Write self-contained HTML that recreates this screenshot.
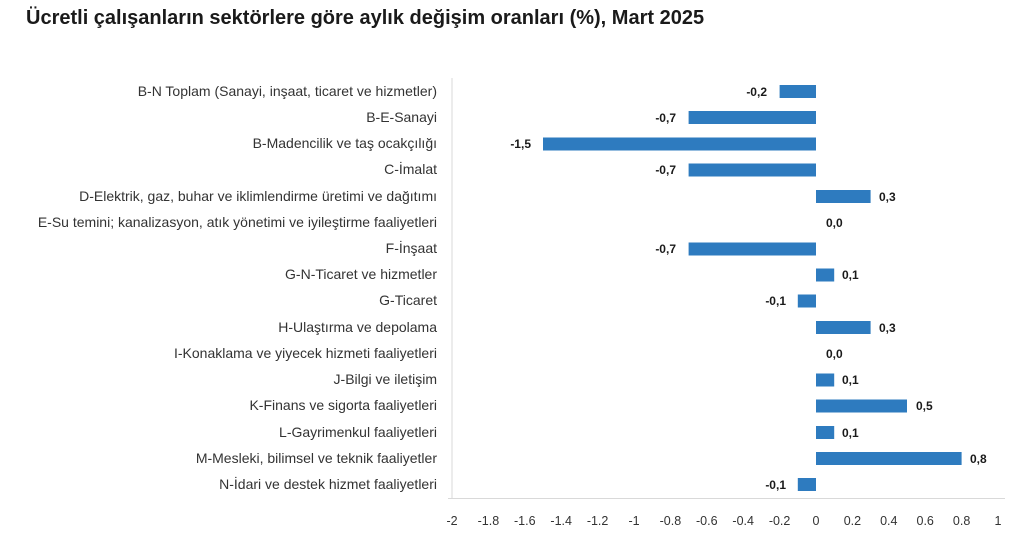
<!DOCTYPE html>
<html><head><meta charset="utf-8"><style>
body{margin:0;background:#fff;}
svg{display:block;}
</style></head><body>
<svg width="1024" height="543" xmlns="http://www.w3.org/2000/svg">
<text x="26" y="24" font-family="Liberation Sans, sans-serif" font-size="20" font-weight="bold" fill="#1a1a1a">Ücretli çalışanların sektörlere göre aylık değişim oranları (%), Mart 2025</text>
<line x1="452" y1="78" x2="452" y2="498" stroke="#d9d9d9" stroke-width="1"/>
<line x1="448" y1="498.5" x2="1005" y2="498.5" stroke="#d9d9d9" stroke-width="1"/>
<g font-family="Liberation Sans, sans-serif" font-size="14" fill="#333" text-anchor="end">
<text x="437" y="96">B-N Toplam (Sanayi, inşaat, ticaret ve hizmetler)</text>
<text x="437" y="122">B-E-Sanayi</text>
<text x="437" y="148">B-Madencilik ve taş ocakçılığı</text>
<text x="437" y="174">C-İmalat</text>
<text x="437" y="201">D-Elektrik, gaz, buhar ve iklimlendirme üretimi ve dağıtımı</text>
<text x="437" y="227">E-Su temini; kanalizasyon, atık yönetimi ve iyileştirme faaliyetleri</text>
<text x="437" y="253">F-İnşaat</text>
<text x="437" y="279">G-N-Ticaret ve hizmetler</text>
<text x="437" y="305">G-Ticaret</text>
<text x="437" y="332">H-Ulaştırma ve depolama</text>
<text x="437" y="358">I-Konaklama ve yiyecek hizmeti faaliyetleri</text>
<text x="437" y="384">J-Bilgi ve iletişim</text>
<text x="437" y="410">K-Finans ve sigorta faaliyetleri</text>
<text x="437" y="437">L-Gayrimenkul faaliyetleri</text>
<text x="437" y="463">M-Mesleki, bilimsel ve teknik faaliyetler</text>
<text x="437" y="489">N-İdari ve destek hizmet faaliyetleri</text>
</g>
<g fill="#2e7bbf">
<rect x="779.6" y="85" width="36.4" height="13"/>
<rect x="688.6" y="111" width="127.4" height="13"/>
<rect x="543" y="137.5" width="273" height="13"/>
<rect x="688.6" y="163.5" width="127.4" height="13"/>
<rect x="816" y="190" width="54.6" height="13"/>
<rect x="688.6" y="242.5" width="127.4" height="13"/>
<rect x="816" y="268.5" width="18.2" height="13"/>
<rect x="797.8" y="294.5" width="18.2" height="13"/>
<rect x="816" y="321" width="54.6" height="13"/>
<rect x="816" y="373.5" width="18.2" height="13"/>
<rect x="816" y="399.5" width="91" height="13"/>
<rect x="816" y="426" width="18.2" height="13"/>
<rect x="816" y="452" width="145.6" height="13"/>
<rect x="797.8" y="478" width="18.2" height="13"/>
</g>
<g font-family="Liberation Sans, sans-serif" font-size="12" font-weight="bold" fill="#1a1a1a">
<text x="767" y="96" text-anchor="end">-0,2</text>
<text x="676" y="122" text-anchor="end">-0,7</text>
<text x="531" y="148" text-anchor="end">-1,5</text>
<text x="676" y="174" text-anchor="end">-0,7</text>
<text x="879" y="201">0,3</text>
<text x="826" y="227">0,0</text>
<text x="676" y="253" text-anchor="end">-0,7</text>
<text x="842" y="279">0,1</text>
<text x="786" y="305" text-anchor="end">-0,1</text>
<text x="879" y="332">0,3</text>
<text x="826" y="358">0,0</text>
<text x="842" y="384">0,1</text>
<text x="916" y="410">0,5</text>
<text x="842" y="437">0,1</text>
<text x="970" y="463">0,8</text>
<text x="786" y="489" text-anchor="end">-0,1</text>
</g>
<g font-family="Liberation Sans, sans-serif" font-size="12.5" fill="#333" text-anchor="middle">
<text x="452" y="525">-2</text>
<text x="488.4" y="525">-1.8</text>
<text x="524.8" y="525">-1.6</text>
<text x="561.2" y="525">-1.4</text>
<text x="597.6" y="525">-1.2</text>
<text x="634" y="525">-1</text>
<text x="670.4" y="525">-0.8</text>
<text x="706.8" y="525">-0.6</text>
<text x="743.2" y="525">-0.4</text>
<text x="779.6" y="525">-0.2</text>
<text x="816" y="525">0</text>
<text x="852.4" y="525">0.2</text>
<text x="888.8" y="525">0.4</text>
<text x="925.2" y="525">0.6</text>
<text x="961.6" y="525">0.8</text>
<text x="998" y="525">1</text>
</g>
</svg>
</body></html>
